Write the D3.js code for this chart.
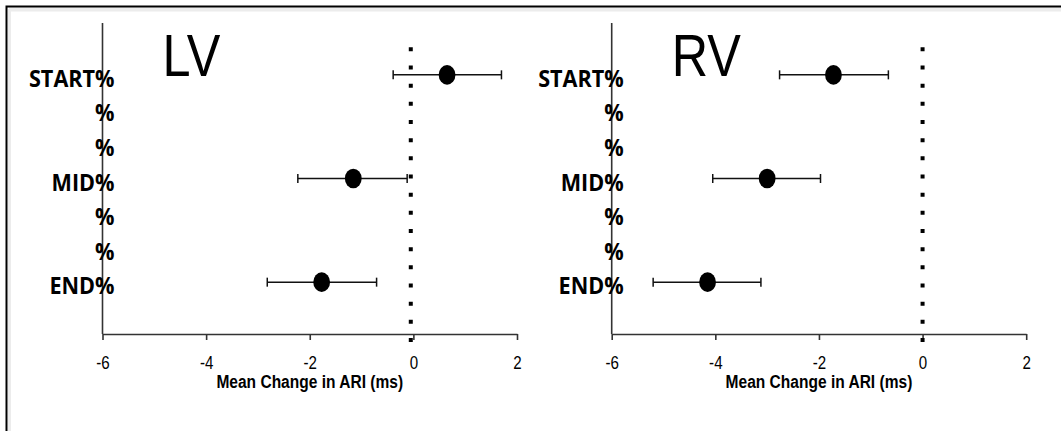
<!DOCTYPE html>
<html>
<head>
<meta charset="utf-8">
<title>Mean Change in ARI - LV and RV</title>
<script src="https://d3js.org/d3.v7.min.js"></script>
<style>
    body { margin: 0; background: #fff; }
    svg { display: block; }
    .xaxis path, .xaxis line, .cat path { stroke: #333; stroke-width: 1.6px; }
</style>
</head>
<body>
<svg id="chart" width="1061" height="431"></svg>
<script>
    // rows of the y axis, top to bottom
    var categories = ['START%', '%', '%', 'MID%', '%', '%', 'END%'];
    var panelNames = ['LV', 'RV'];
    var xTicks = [-6, -4, -2, 0, 2];
    var xTitle = 'Mean Change in ARI (ms)';

    // rows that carry a point (START, MID, END)
    var rowIndex = [0, 3, 6];

    // LV: mean and error bar ends
    var lvMean = [0.65, -1.16, -1.77];
    var lvLow = [-0.39, -2.23, -2.82];
    var lvHigh = [1.70, -0.12, -0.71];

    // RV: mean and error bar ends
    var rvMean = [-1.72, -3.00, -4.15];
    var rvLow = [-2.76, -4.05, -5.20];
    var rvHigh = [-0.66, -1.97, -3.12];

    // dotted reference line position per panel
    var refLine = [-0.05, 0];

    var svg = d3.select('#chart');
    var squeeze = 0.84;     // the source picture is a little narrowed horizontally
    var catSqueeze = 0.9;
    var armFont = '"Liberation Sans", Arial, sans-serif';

    // outer frame (top and left edges only are visible)
    svg.append('line').attr('x1', 9).attr('x2', 1061).attr('y1', 9.5).attr('y2', 9.5)
        .attr('stroke', '#ececec').attr('stroke-width', 4);
    svg.append('line').attr('x1', 9.5).attr('x2', 9.5).attr('y1', 9).attr('y2', 431)
        .attr('stroke', '#ececec').attr('stroke-width', 3);
    svg.append('path').attr('d', 'M6.5,431V6.5H1061')
        .attr('fill', 'none').attr('stroke', '#000').attr('stroke-width', 2);

    // soft edge for the dots
    svg.append('defs').append('filter').attr('id', 'soft')
        .attr('x', '-30%').attr('y', '-30%').attr('width', '160%').attr('height', '160%')
        .append('feGaussianBlur').attr('stdDeviation', 0.7);

    var plotW = 414.5, plotTop = 23, plotBottom = 334;

    var x = d3.scaleLinear().domain([-6, 2]).range([0, plotW]);
    var y = d3.scalePoint().domain(d3.range(categories.length))
        .range([plotTop, plotBottom]).padding(1.5);

    var panelData = [
        {mean: lvMean, low: lvLow, high: lvHigh},
        {mean: rvMean, low: rvLow, high: rvHigh}
    ];

    function drawPanel(p, offsetX) {
        var g = svg.append('g').attr('transform', 'translate(' + offsetX + ',0)');
        var d = panelData[p];
        var rows = rowIndex.map(function(r, i) {
            return {row: r, mean: d.mean[i], low: d.low[i], high: d.high[i]};
        });

        // x axis
        var xa = g.append('g').attr('class', 'xaxis')
            .attr('transform', 'translate(0,' + plotBottom + ')')
            .call(d3.axisBottom(x).tickValues(xTicks).tickSize(6).tickSizeOuter(0).tickPadding(16)
                .tickFormat(function(v) { return String(v); }));
        xa.selectAll('text')
            .attr('font-family', armFont).attr('font-size', 18).attr('fill', '#000')
            .attr('transform', 'scale(' + squeeze + ',1)');

        // y axis with category labels overlapping the axis line
        var ya = g.append('g').attr('class', 'cat')
            .call(d3.axisLeft(y).tickSize(0).tickSizeOuter(0).tickPadding(-12 / catSqueeze)
                .tickFormat(function(i) { return categories[i]; }));
        ya.selectAll('text')
            .attr('font-family', '"Open Sans", sans-serif').attr('font-weight', 'bold')
            .attr('font-size', 24).attr('fill', '#000')
            .attr('dy', '0.48em')
            .attr('transform', 'scale(' + catSqueeze + ',1)');
        ya.select('.domain').attr('d', 'M0,' + plotTop + 'V' + plotBottom);

        // dotted reference line
        g.append('line')
            .attr('x1', x(refLine[p])).attr('x2', x(refLine[p]))
            .attr('y1', plotTop + 24.3).attr('y2', plotBottom + 8)
            .attr('stroke', '#000').attr('stroke-width', 4)
            .attr('stroke-dasharray', '4 14.17');

        // error bars
        var bars = g.append('g').attr('stroke', '#111').attr('stroke-width', 1.5);
        bars.selectAll('line.bar').data(rows).join('line').attr('class', 'bar')
            .attr('x1', function(r) { return x(r.low); })
            .attr('x2', function(r) { return x(r.high); })
            .attr('y1', function(r) { return y(r.row); })
            .attr('y2', function(r) { return y(r.row); });
        bars.selectAll('line.capL').data(rows).join('line').attr('class', 'capL')
            .attr('x1', function(r) { return x(r.low); })
            .attr('x2', function(r) { return x(r.low); })
            .attr('y1', function(r) { return y(r.row) - 4.5; })
            .attr('y2', function(r) { return y(r.row) + 4.5; });
        bars.selectAll('line.capH').data(rows).join('line').attr('class', 'capH')
            .attr('x1', function(r) { return x(r.high); })
            .attr('x2', function(r) { return x(r.high); })
            .attr('y1', function(r) { return y(r.row) - 4.5; })
            .attr('y2', function(r) { return y(r.row) + 4.5; });

        // mean points
        g.append('g').selectAll('ellipse').data(rows).join('ellipse')
            .attr('cx', function(r) { return x(r.mean); })
            .attr('cy', function(r) { return y(r.row); })
            .attr('rx', 8.4).attr('ry', 9.8)
            .attr('fill', '#000').attr('filter', 'url(#soft)');

        // panel title
        g.append('text')
            .attr('transform', 'translate(60,76) scale(' + squeeze + ',1)')
            .attr('font-family', armFont)
            .attr('font-size', 60).attr('fill', '#000')
            .text(panelNames[p]);

        // x axis title
        g.append('text')
            .attr('transform', 'translate(' + (plotW / 2) + ',388) scale(' + squeeze + ',1)')
            .attr('text-anchor', 'middle')
            .attr('font-family', armFont)
            .attr('font-weight', 'bold').attr('font-size', 18.5).attr('fill', '#000')
            .text(xTitle);
    }

    drawPanel(0, 102.5);
    drawPanel(1, 611.7);
</script>
</body>
</html>
